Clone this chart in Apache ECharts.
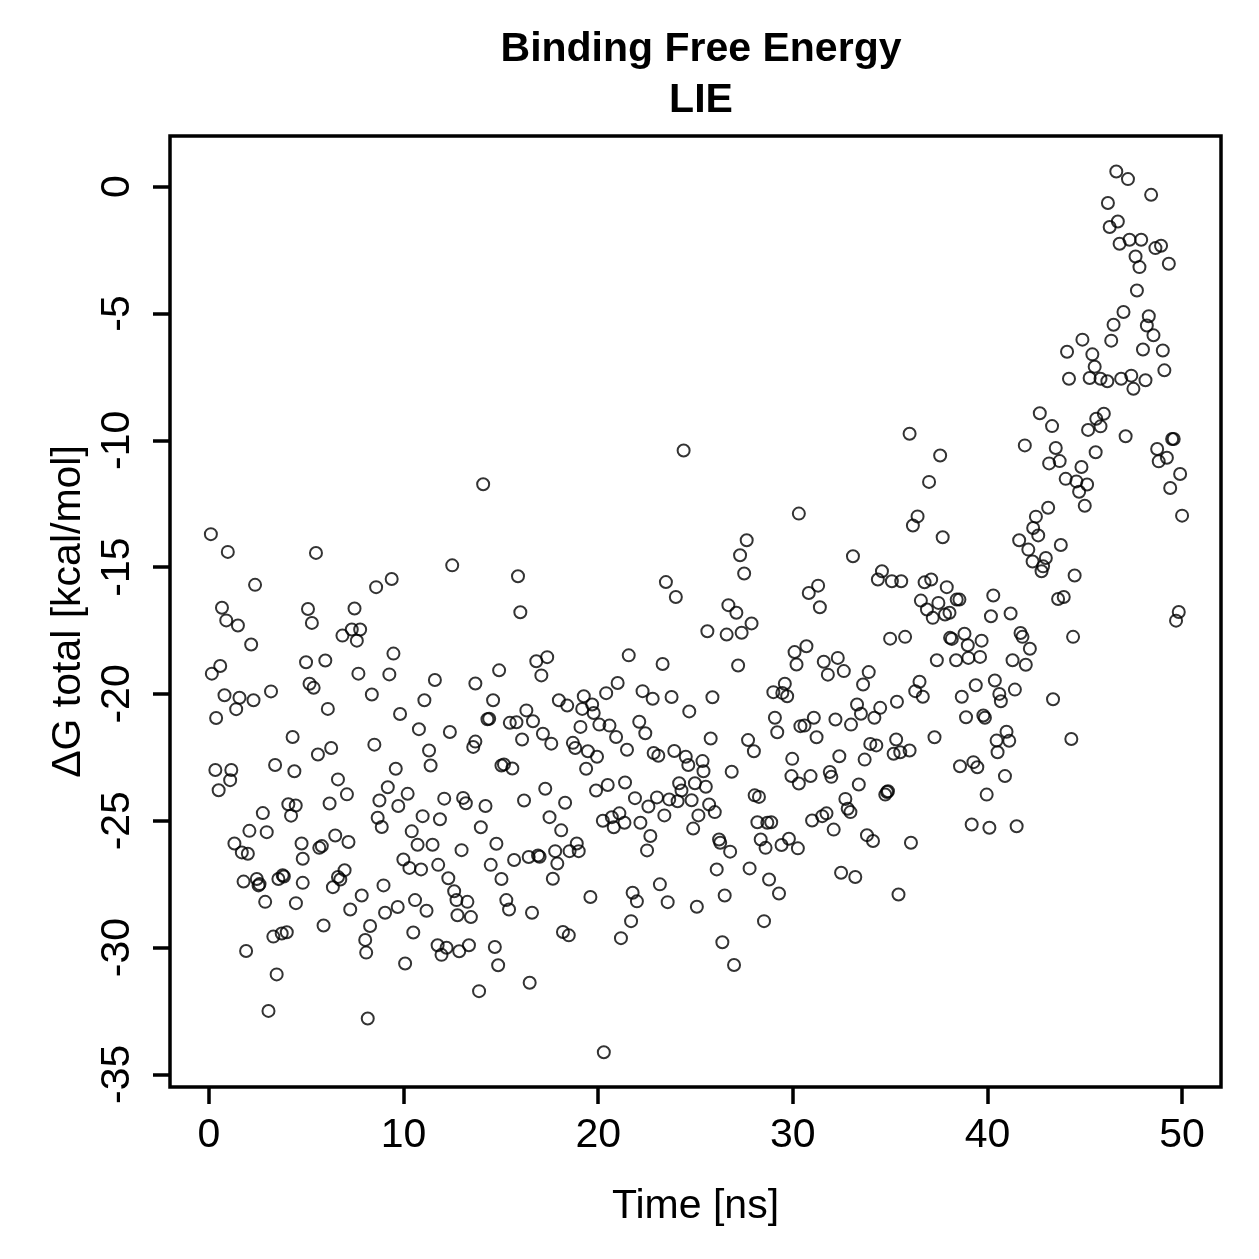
<!DOCTYPE html>
<html>
<head>
<meta charset="utf-8">
<script src="https://cdn.jsdelivr.net/npm/echarts@6/dist/echarts.min.js"></script>
<style>
html,body{margin:0;padding:0;background:#fff;}
#chart{width:1259px;height:1259px;}
</style>
</head>
<body>
<div id="chart"></div>
<script>
// values, time in ns, dG in kcal/mol
var timeNs = [
0.1,0.97,2.37,0.67,0.89,1.49,2.17,0.58,0.15,0.8,1.57,2.29,3.19,1.4,0.37,4.3,3.4,4.39,0.33,1.15,
1.09,0.5,4.08,4.46,4.22,2.77,2.08,2.97,1.31,1.69,2.0,1.78,2.46,2.6,2.55,3.57,3.79,3.85,2.89,4.47,
3.31,3.74,4.0,1.91,3.48,3.06,
5.5,8.59,9.39,5.09,5.29,7.48,6.86,7.34,7.77,7.6,9.48,4.99,5.98,7.68,9.27,5.17,5.38,8.37,6.11,9.82,
8.5,5.6,6.28,9.6,6.63,9.19,7.09,8.76,6.2,9.73,8.67,8.88,4.76,4.82,5.67,5.8,6.49,7.17,6.97,6.63,
6.75,6.37,4.82,8.97,7.85,7.26,9.05,9.7,5.89,8.28,8.03,8.08,8.16,
14.09,12.5,14.91,11.61,13.69,11.07,14.6,10.79,12.38,11.31,11.39,14.31,14.4,13.69,13.58,15.03,10.21,12.09,13.06,13.2,
14.21,10.98,11.87,10.42,13.97,10.72,11.49,12.98,14.77,9.99,10.3,10.9,11.78,12.3,14.48,15.03,12.6,12.72,13.28,12.77,
13.46,10.59,11.18,10.5,12.21,11.75,11.95,12.86,13.36,14.69,10.08,14.86,13.88,
15.88,16.0,16.82,17.38,17.08,16.31,15.46,15.8,16.65,16.09,17.16,17.59,17.98,18.41,19.26,19.18,19.69,19.77,20.06,19.09,
18.7,18.82,19.47,19.94,19.38,15.16,15.59,17.28,16.19,18.3,19.89,17.5,18.1,15.68,16.43,16.91,16.99,17.79,17.9,17.67,
18.53,18.9,19.0,19.6,15.28,15.42,16.6,18.19,18.49,16.48,
24.39,23.48,23.99,21.57,23.31,21.0,20.41,22.28,22.8,23.77,24.68,20.58,20.92,22.11,22.42,21.48,22.85,23.09,23.91,24.5,
24.63,20.49,21.38,24.16,24.28,24.08,24.97,21.89,23.02,22.58,23.65,24.8,23.4,25.15,24.88,20.24,20.7,21.09,20.8,21.35,
22.17,22.68,22.51,23.17,21.77,21.99,23.57,25.07,21.69,21.17,20.29,
30.31,27.63,27.29,27.5,26.69,27.1,27.88,27.37,25.61,26.6,27.19,30.09,30.19,25.87,29.0,29.59,29.46,29.71,29.08,29.2,
30.39,25.78,27.7,28.0,25.36,25.41,25.53,25.7,25.99,26.86,29.97,29.93,30.31,28.04,28.26,28.18,28.69,28.89,28.35,28.6,
29.42,29.8,30.26,26.21,26.27,26.78,26.09,27.78,28.78,29.29,26.5,28.52,26.38,26.98,
33.09,34.58,34.37,35.09,35.57,31.3,30.82,31.39,35.0,30.7,31.59,32.31,31.8,32.62,33.9,33.61,35.35,33.3,33.5,34.49,
34.19,32.99,31.08,30.6,31.22,32.19,35.31,33.98,34.29,35.18,35.52,32.39,33.69,30.91,31.9,31.98,33.39,34.75,34.84,34.89,
32.7,32.82,32.96,30.99,31.51,31.73,32.1,33.81,34.12,32.48,33.21,35.43,
36.0,37.57,37.0,36.41,36.17,37.7,36.77,37.11,37.91,40.3,36.58,37.48,36.89,37.19,37.82,38.05,38.42,38.56,40.18,35.77,
38.08,38.17,38.82,38.99,39.7,37.4,38.39,39.02,39.62,36.51,36.29,36.68,39.4,38.68,40.38,40.61,40.69,38.9,39.79,39.87,
36.0,37.28,40.47,40.52,38.59,39.28,39.48,39.96,39.19,40.1,36.07,
44.88,44.09,45.39,45.51,45.25,45.81,44.19,42.69,43.32,45.17,45.59,45.98,45.81,41.92,43.51,43.17,43.71,45.56,44.83,44.02,
44.57,45.12,44.71,45.0,43.12,42.49,42.35,42.61,41.63,42.1,42.32,43.0,42.86,42.78,43.77,44.48,43.63,43.92,41.19,41.7,
41.8,42.18,44.4,41.29,41.97,41.41,43.37,40.98,41.12,44.31,40.9,41.5,
46.62,47.22,48.41,46.19,46.7,46.28,46.79,47.3,47.9,48.63,48.92,47.61,47.81,49.32,47.68,46.99,48.29,48.19,48.53,46.48,
46.36,47.99,49.01,49.09,46.16,46.87,47.39,47.5,48.12,47.1,48.72,48.8,49.22,49.49,49.57,49.9,49.39,50.0,49.83,49.69
];
var dGTotal = [
-13.7,-14.4,-15.7,-16.6,-17.1,-17.3,-18.05,-18.9,-19.2,-20.05,-20.15,-20.25,-19.9,-20.6,-20.95,-21.7,-22.8,-23.05,-23.0,-23.0,
-23.4,-23.8,-24.35,-24.4,-24.8,-24.7,-25.4,-25.45,-25.9,-26.25,-26.3,-27.4,-27.3,-27.5,-27.55,-27.3,-27.15,-27.2,-28.2,-28.25,
-29.57,-29.45,-29.4,-30.14,-31.06,-32.5,
-14.44,-15.79,-15.47,-16.65,-17.2,-16.63,-17.7,-17.46,-17.46,-17.9,-18.41,-18.75,-18.68,-19.2,-19.23,-19.6,-19.76,-20.02,-20.59,-20.79,
-22.0,-22.39,-22.13,-22.95,-23.37,-23.68,-23.96,-24.2,-24.32,-24.42,-24.88,-25.25,-25.9,-26.5,-26.07,-26.0,-25.58,-25.84,-26.95,-27.22,
-27.32,-27.62,-27.45,-27.55,-27.95,-28.5,-28.63,-28.4,-29.13,-29.15,-29.7,-30.2,-32.8,
-11.73,-14.93,-19.07,-19.45,-19.59,-20.25,-20.25,-21.39,-21.5,-22.23,-22.82,-21.0,-20.98,-21.88,-22.09,-22.82,-23.94,-24.13,-24.1,-24.31,
-24.42,-24.82,-24.94,-25.42,-25.26,-25.95,-25.95,-26.16,-25.91,-26.53,-26.86,-26.92,-26.74,-27.27,-26.74,-27.3,-27.78,-28.13,-28.2,-28.73,
-28.8,-28.13,-28.55,-29.41,-30.01,-29.91,-30.29,-30.15,-29.91,-29.98,-30.63,-30.7,-31.72,
-15.36,-16.78,-18.71,-18.55,-19.27,-20.65,-21.14,-21.12,-21.08,-21.8,-21.57,-21.96,-20.25,-20.46,-20.09,-20.59,-20.42,-20.75,-21.21,-21.3,
-21.93,-22.13,-22.26,-22.48,-22.95,-22.78,-22.94,-23.74,-24.2,-24.29,-23.81,-24.86,-25.38,-26.55,-26.43,-26.37,-26.42,-26.2,-26.69,-27.29,
-26.2,-25.9,-26.2,-28.01,-28.13,-28.5,-28.63,-29.39,-29.52,-31.39,
-10.4,-15.59,-16.18,-18.48,-18.82,-19.57,-19.97,-19.89,-20.19,-20.12,-20.69,-21.25,-21.7,-21.1,-21.55,-22.2,-22.33,-22.44,-22.25,-22.48,
-22.8,-23.59,-23.49,-23.52,-23.81,-24.23,-23.52,-24.11,-24.08,-24.44,-24.16,-24.19,-24.79,-24.79,-25.31,-25.0,-24.86,-24.71,-25.26,-25.08,
-25.08,-25.6,-26.17,-27.51,-27.84,-28.18,-28.21,-28.39,-28.96,-29.63,-34.13,
-12.89,-13.94,-14.53,-15.25,-16.5,-16.8,-17.22,-17.59,-17.53,-17.66,-18.88,-18.35,-18.84,-20.13,-19.93,-19.6,-19.96,-20.09,-20.94,-21.51,
-21.27,-21.76,-21.82,-22.26,-22.65,-23.05,-23.66,-24.36,-24.66,-23.07,-22.56,-23.24,-23.53,-24.0,-24.06,-25.06,-25.08,-25.06,-25.74,-26.07,
-25.96,-25.71,-26.09,-25.74,-25.87,-26.22,-26.92,-26.88,-27.32,-27.87,-27.95,-28.96,-29.79,-30.69,
-14.57,-15.16,-15.49,-15.56,-15.56,-15.73,-16.02,-16.58,-17.82,-18.12,-18.73,-18.58,-19.24,-19.1,-19.14,-19.63,-20.31,-20.42,-20.78,-20.55,
-20.94,-21.21,-20.94,-21.25,-21.71,-21.01,-21.8,-21.97,-22.03,-22.36,-22.3,-22.46,-22.59,-23.24,-23.08,-23.27,-23.57,-23.97,-23.87,-23.84,
-24.14,-24.53,-24.66,-24.99,-24.82,-24.71,-25.35,-25.57,-25.8,-27.05,-27.22,-27.91,
-9.74,-10.6,-11.64,-13.0,-13.36,-13.82,-15.6,-15.49,-15.79,-16.12,-16.32,-16.41,-16.67,-17.0,-16.87,-16.8,-16.28,-16.28,-16.94,-17.75,
-17.79,-17.83,-17.63,-18.08,-17.9,-18.67,-18.67,-18.58,-18.54,-19.52,-19.89,-20.11,-19.66,-20.11,-19.47,-20.0,-20.29,-20.92,-20.85,-20.94,
-22.23,-21.71,-21.84,-22.3,-22.85,-22.69,-22.89,-23.97,-25.15,-25.28,-25.87,
-6.03,-6.51,-6.61,-7.1,-7.54,-7.57,-7.57,-8.93,-9.44,-9.59,-9.15,-8.95,-9.45,-10.2,-10.3,-10.91,-10.82,-10.47,-11.05,-11.52,
-11.62,-11.74,-12.03,-12.58,-12.66,-13.01,-13.46,-13.75,-13.94,-14.31,-14.78,-14.64,-14.97,-15.16,-14.13,-15.33,-16.26,-16.18,-16.83,-17.6,
-17.75,-18.22,-17.75,-18.67,-18.85,-19.83,-20.21,-21.49,-21.85,-21.78,-23.24,-25.22,
0.6,0.3,-0.32,-0.64,-1.37,-1.59,-2.25,-2.09,-2.09,-2.42,-2.33,-2.75,-3.17,-3.04,-4.09,-4.94,-5.11,-5.47,-5.86,-5.44,
-6.07,-6.42,-6.46,-7.24,-7.67,-7.57,-7.45,-7.97,-7.63,-9.84,-10.34,-10.83,-10.69,-9.95,-9.95,-11.33,-11.88,-12.97,-16.77,-17.11
];
var xTicks = [0, 10, 20, 30, 40, 50];
var yTicks = [0, -5, -10, -15, -20, -25, -30, -35];

var points = [];
for (var i = 0; i < timeNs.length; i++) {
  points.push([timeNs[i], dGTotal[i]]);
}

var font = 'Liberation Sans, Arial, Helvetica, sans-serif';
var chart = echarts.init(document.getElementById('chart'));

chart.setOption({
  backgroundColor: '#fff',
  animation: false,
  title: {
    text: 'Binding Free Energy\nLIE',
    left: 696,
    top: 19,
    textAlign: 'center',
    textStyle: {
      fontFamily: font,
      fontSize: 41,
      fontWeight: 'bold',
      color: '#000',
      lineHeight: 51
    }
  },
  grid: {
    left: 170,
    top: 136,
    width: 1051,
    height: 951,
    show: true,
    borderColor: '#000',
    borderWidth: 3.5,
    backgroundColor: 'transparent'
  },
  xAxis: {
    type: 'value',
    position: 'bottom',
    min: -2,
    max: 52,
    name: 'Time [ns]',
    nameLocation: 'middle',
    nameGap: 99,
    nameTextStyle: { fontFamily: font, fontSize: 41, color: '#000' },
    axisLine: { show: false, onZero: false },
    splitLine: { show: false },
    axisTick: {
      show: true,
      inside: false,
      length: 17,
      customValues: xTicks,
      lineStyle: { color: '#000', width: 3.5 }
    },
    axisLabel: {
      customValues: xTicks,
      margin: 28,
      fontFamily: font,
      fontSize: 41,
      color: '#000'
    }
  },
  yAxis: {
    type: 'value',
    position: 'left',
    min: -35.5,
    max: 2.0,
    name: 'ΔG total [kcal/mol]',
    nameLocation: 'middle',
    nameRotate: 90,
    nameGap: 66,
    nameTextStyle: { fontFamily: font, fontSize: 41, color: '#000' },
    axisLine: { show: false, onZero: false },
    splitLine: { show: false },
    axisTick: {
      show: true,
      inside: false,
      length: 17,
      customValues: yTicks,
      lineStyle: { color: '#000', width: 3.5 }
    },
    axisLabel: {
      customValues: yTicks,
      rotate: 90,
      margin: 32,
      fontFamily: font,
      fontSize: 41,
      color: '#000'
    }
  },
  series: [{
    type: 'scatter',
    data: points,
    symbol: 'circle',
    symbolSize: 12,
    itemStyle: {
      color: 'rgba(0,0,0,0)',
      borderColor: '#000',
      borderWidth: 2
    }
  }]
});
</script>
</body>
</html>
